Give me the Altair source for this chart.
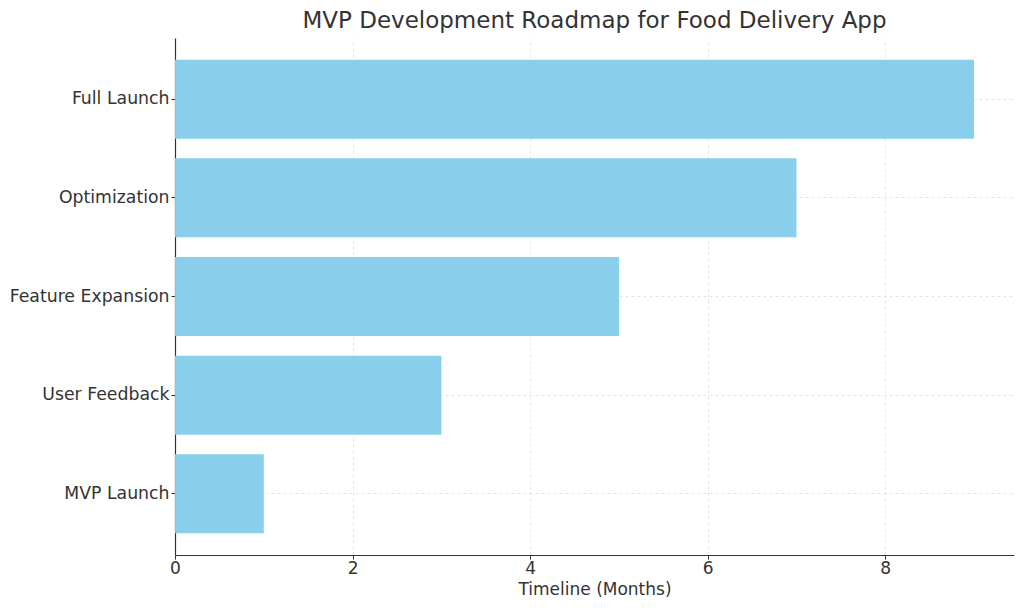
import altair as alt
import pandas as pd

stages = ["MVP Launch", "User Feedback", "Feature Expansion", "Optimization", "Full Launch"]
months = [1, 3, 5, 7, 9]

df = pd.DataFrame({"stage": stages, "months": months})
FONT = "DejaVu Sans"

chart = alt.Chart(df).mark_bar(color="#84CDEA", opacity=0.96).encode(
    x=alt.X("months:Q", title="Timeline (Months)",
            scale=alt.Scale(domain=[0, 9.45], nice=False, zero=True),
            axis=alt.Axis(values=[0, 2, 4, 6, 8], format="d", grid=True,
                          gridDash=[3, 3], gridColor="#dddddd", gridWidth=0.8,
                          tickSize=4, tickColor="#333333", domainColor="#333333",
                          domainWidth=1.2, labelFontSize=17, labelColor="#333333",
                          labelFont=FONT, titleFont=FONT, titleFontSize=17,
                          titleFontWeight="normal", titleColor="#333333",
                          labelPadding=1, titlePadding=5, labelFlush=False)),
    y=alt.Y("stage:N", title=None, sort=stages[::-1],
            scale=alt.Scale(paddingInner=0.2, paddingOuter=0.22),
            axis=alt.Axis(grid=True, bandPosition=0.5, gridDash=[3, 3],
                          gridColor="#dddddd", gridWidth=0.8, tickSize=4,
                          tickColor="#333333", domainColor="#333333", domainWidth=1.2,
                          labelFontSize=17.3, labelColor="#333333", labelFont=FONT,
                          labelPadding=2)),
).properties(
    width=839, height=517,
    title=alt.TitleParams("MVP Development Roadmap for Food Delivery App",
                          font=FONT, fontSize=23, fontWeight="normal",
                          color="#333333", anchor="middle", offset=5),
    autosize=alt.AutoSizeParams(type="none"),
    padding={"left": 167, "top": 30, "right": 2, "bottom": 50},
).configure_view(stroke=None)

chart.save("out.html", embed_options={"renderer": "svg", "actions": False})
